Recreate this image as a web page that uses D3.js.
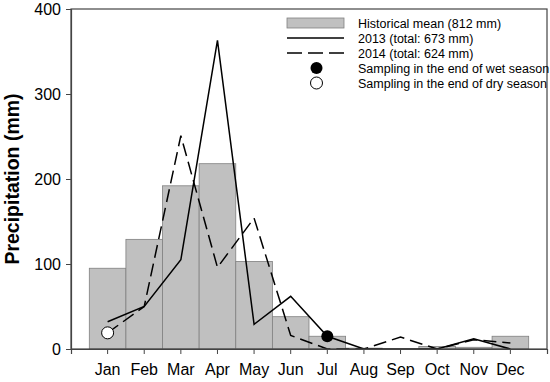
<!DOCTYPE html>
<html>
<head>
<meta charset="utf-8">
<script src="https://cdnjs.cloudflare.com/ajax/libs/d3/7.8.5/d3.min.js"></script>
<style>
body{margin:0;background:#fff;}
svg{display:block;font-family:"Liberation Sans",Arial,sans-serif;}
</style>
</head>
<body>
<svg id="chart" width="550" height="382"></svg>
<script>
var months = ["Jan","Feb","Mar","Apr","May","Jun","Jul","Aug","Sep","Oct","Nov","Dec"];
var histMean = [95, 129, 192, 218, 103, 38, 15, 1, 0, 3, 2, 15];
var rain2013 = [32, 50, 105, 363, 29, 62, 15, 0, 0, 0, 12, 0];
var rain2014 = [19, 50, 251, 96, 154, 16, 0, 0, 14, 0, 11, 7];
var wetSamples = [{month: "Jul", value: 15}];
var drySamples = [{month: "Jan", value: 19}];
var yTicks = [0, 100, 200, 300, 400];
var legendItems = ["Historical mean (812 mm)", "2013 (total: 673 mm)", "2014 (total: 624 mm)",
	"Sampling in the end of wet season", "Sampling in the end of dry season"];

var svg = d3.select("#chart");
var L = 71, R = 547, T = 9, B = 349;

var x = d3.scaleBand().domain(months).range([L, R]).paddingInner(0).paddingOuter(0.5);
var y = d3.scaleLinear().domain([0, 400]).range([B, T]);
function cx(m){ return x(m) + x.bandwidth()/2; }

// bars
svg.append("g").selectAll("rect").data(histMean).enter().append("rect")
	.attr("x", function(d, i){ return x(months[i]); })
	.attr("y", function(d){ return y(d); })
	.attr("width", x.bandwidth())
	.attr("height", function(d){ return B - y(d); })
	.attr("fill", "#c0c0c0")
	.attr("stroke", "#808080")
	.attr("stroke-width", 0.8);

var line = d3.line()
	.x(function(d, i){ return cx(months[i]); })
	.y(function(d){ return y(d); });

svg.append("path").datum(rain2013).attr("d", line)
	.attr("fill", "none").attr("stroke", "#000").attr("stroke-width", 1.5);
svg.append("path").datum(rain2014).attr("d", line)
	.attr("fill", "none").attr("stroke", "#000").attr("stroke-width", 1.5)
	.attr("stroke-dasharray", "13,6");

// frame
svg.append("rect").attr("x", L).attr("y", T).attr("width", R - L).attr("height", B - T)
	.attr("fill", "none").attr("stroke", "#444").attr("stroke-width", 1.2);

// axes
var yAxis = svg.append("g").attr("transform", "translate(" + L + ",0)")
	.call(d3.axisLeft(y).tickValues(yTicks).tickSize(5).tickPadding(5));
var xAxis = svg.append("g").attr("transform", "translate(0," + B + ")")
	.call(d3.axisBottom(x).tickSize(5).tickPadding(10));
[yAxis, xAxis].forEach(function(a){
	a.select(".domain").attr("stroke", "#444").attr("stroke-width", 1.2);
	a.selectAll(".tick line").attr("stroke", "#444");
	a.selectAll("text").attr("font-size", 16).attr("fill", "#000")
		.attr("font-family", "'Liberation Sans',Arial,sans-serif");
});

// sample points
svg.append("g").selectAll("circle").data(wetSamples).enter().append("circle")
	.attr("cx", function(d){ return cx(d.month); }).attr("cy", function(d){ return y(d.value); })
	.attr("r", 6).attr("fill", "#000");
svg.append("g").selectAll("circle").data(drySamples).enter().append("circle")
	.attr("cx", function(d){ return cx(d.month); }).attr("cy", function(d){ return y(d.value); })
	.attr("r", 6).attr("fill", "#fff").attr("stroke", "#000").attr("stroke-width", 1);

// y title
svg.append("text").attr("transform", "translate(19,179) rotate(-90)")
	.attr("text-anchor", "middle").attr("font-size", 19.5).attr("font-weight", "bold")
	.text("Precipitation (mm)");

// legend
var lg = svg.append("g");
var rowY = function(i){ return 23 + i * 15; };
lg.append("rect").attr("x", 287).attr("y", rowY(0) - 5).attr("width", 57).attr("height", 10)
	.attr("fill", "#c0c0c0").attr("stroke", "#808080").attr("stroke-width", 0.8);
lg.append("line").attr("x1", 287).attr("x2", 344).attr("y1", rowY(1)).attr("y2", rowY(1))
	.attr("stroke", "#000").attr("stroke-width", 1.5);
lg.append("line").attr("x1", 287).attr("x2", 344).attr("y1", rowY(2)).attr("y2", rowY(2))
	.attr("stroke", "#000").attr("stroke-width", 1.5).attr("stroke-dasharray", "15,6");
lg.append("circle").attr("cx", 316.5).attr("cy", rowY(3)).attr("r", 6).attr("fill", "#000");
lg.append("circle").attr("cx", 316.5).attr("cy", rowY(4)).attr("r", 6)
	.attr("fill", "#fff").attr("stroke", "#000");
lg.selectAll("text").data(legendItems).enter().append("text")
	.attr("x", 358).attr("y", function(d, i){ return rowY(i) + 4.5; })
	.attr("font-size", 12.5).text(function(d){ return d; });
</script>
</body>
</html>
